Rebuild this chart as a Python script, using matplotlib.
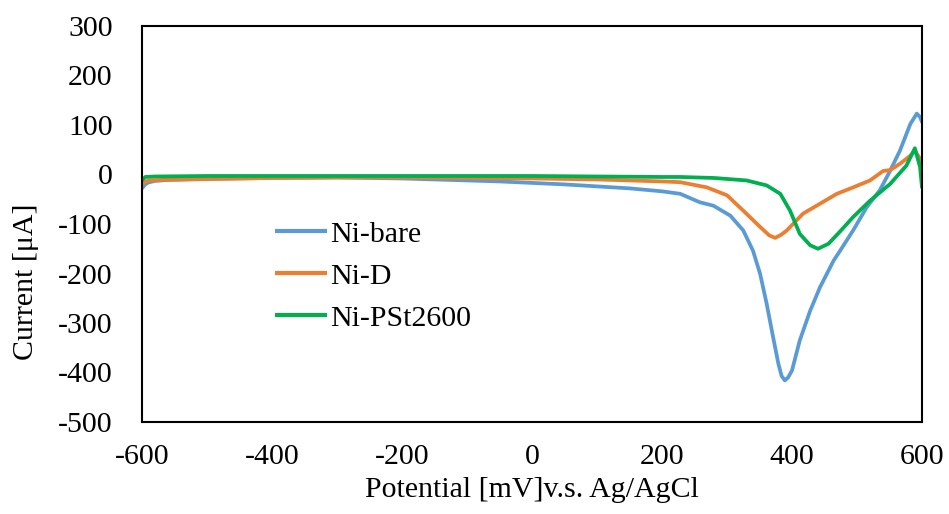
import matplotlib
matplotlib.use("Agg")
import matplotlib.pyplot as plt

plt.rcParams['font.family'] = ['Liberation Serif', 'DejaVu Serif']
plt.rcParams['axes.unicode_minus'] = False

# Data (potential in mV, current in µA)
bare_x = [-600, -595, -590, -580, -560, -500, -400, -300, -250, -200, -150, -100, -50, 0, 50, 100, 150, 200,
          228, 258, 279, 305, 325, 340, 351, 361, 371, 379, 384, 389, 394, 400, 412, 428, 443, 464, 474,
          494, 515, 535, 550, 566, 582, 592, 597, 600]
bare_y = [-28, -20, -16, -13, -11, -9, -7, -6, -7, -8, -10, -12, -14, -17, -20, -24, -28, -34,
          -39, -56, -63, -83, -113, -154, -201, -261, -329, -382, -407, -416, -410, -396, -335, -275, -228, -174, -154,
          -113, -66, -32, 5, 48, 102, 123, 116, 106]

d_x = [-600, -595, -590, -570, -500, -400, -300, -200, -100, 0, 100, 151, 200, 228, 269, 300, 325, 351,
       365, 374, 383, 392, 417, 443, 469, 494, 520, 540, 551, 566, 582, 589, 597, 600]
d_y = [-20, -15, -12, -11, -9, -7, -6, -6, -7, -8, -10, -12, -14, -15.5, -26, -42, -73, -106,
       -123, -128, -122, -113, -79, -59, -39, -26, -12, 7, 9, 21.6, 38, 48, 32, 11]

pst_x = [-600, -595, -580, -500, -300, -100, 0, 100, 200, 228, 280, 330, 361, 382, 397, 412, 428, 440,
         456, 474, 494, 520, 551, 576, 589, 597, 600]
pst_y = [-12, -5, -4, -3, -3, -3, -3, -4, -5, -5, -7, -12, -22, -39, -73, -120, -143, -150,
         -140, -115, -86, -53, -19, 18, 53, 15, -26]

labels = ["Ni-bare", "Ni-D", "Ni-PSt2600"]
colors = ["#5B9BD5", "#ED7D31", "#00B050"]

x_ticks = [-600, -400, -200, 0, 200, 400, 600]
y_ticks = [300, 200, 100, 0, -100, -200, -300, -400, -500]

fig = plt.figure(figsize=(9.49, 5.14), dpi=100)
ax = fig.add_axes([142 / 949, 1 - 422 / 514, (922 - 142) / 949, (422 - 26) / 514])

for xs, ys, lab, col in zip([bare_x, d_x, pst_x], [bare_y, d_y, pst_y], labels, colors):
    ax.plot(xs, ys, color=col, lw=2.7, label=lab, solid_capstyle='round', solid_joinstyle='round')

ax.set_xlim(-600, 600)
ax.set_ylim(-500, 300)
ax.set_xticks(x_ticks)
ax.set_yticks(y_ticks)
ax.tick_params(axis='both', length=0, labelsize=21.5)
ax.tick_params(axis='x', pad=16)
ax.tick_params(axis='y', pad=21)
for sp in ax.spines.values():
    sp.set_linewidth(1.5)
    sp.set_color('black')

ax.set_xlabel("Potential [mV]v.s. Ag/AgCl", fontsize=21.5)
ax.set_ylabel("Current [μA]", fontsize=21.5)
ax.xaxis.set_label_coords(0.5, -0.14)
ax.yaxis.set_label_coords(-0.132, 0.354)

leg = ax.legend(loc='upper left', bbox_to_anchor=(275 / 949, 1 - 221 / 514), bbox_transform=fig.transFigure,
                frameon=False, fontsize=21.5, handlelength=1.75, handletextpad=0.1, labelspacing=0.5,
                borderpad=0, borderaxespad=0)
for l in leg.get_lines():
    l.set_linewidth(3)
    l.set_solid_capstyle('butt')

fig.savefig("out.png", dpi=100)
